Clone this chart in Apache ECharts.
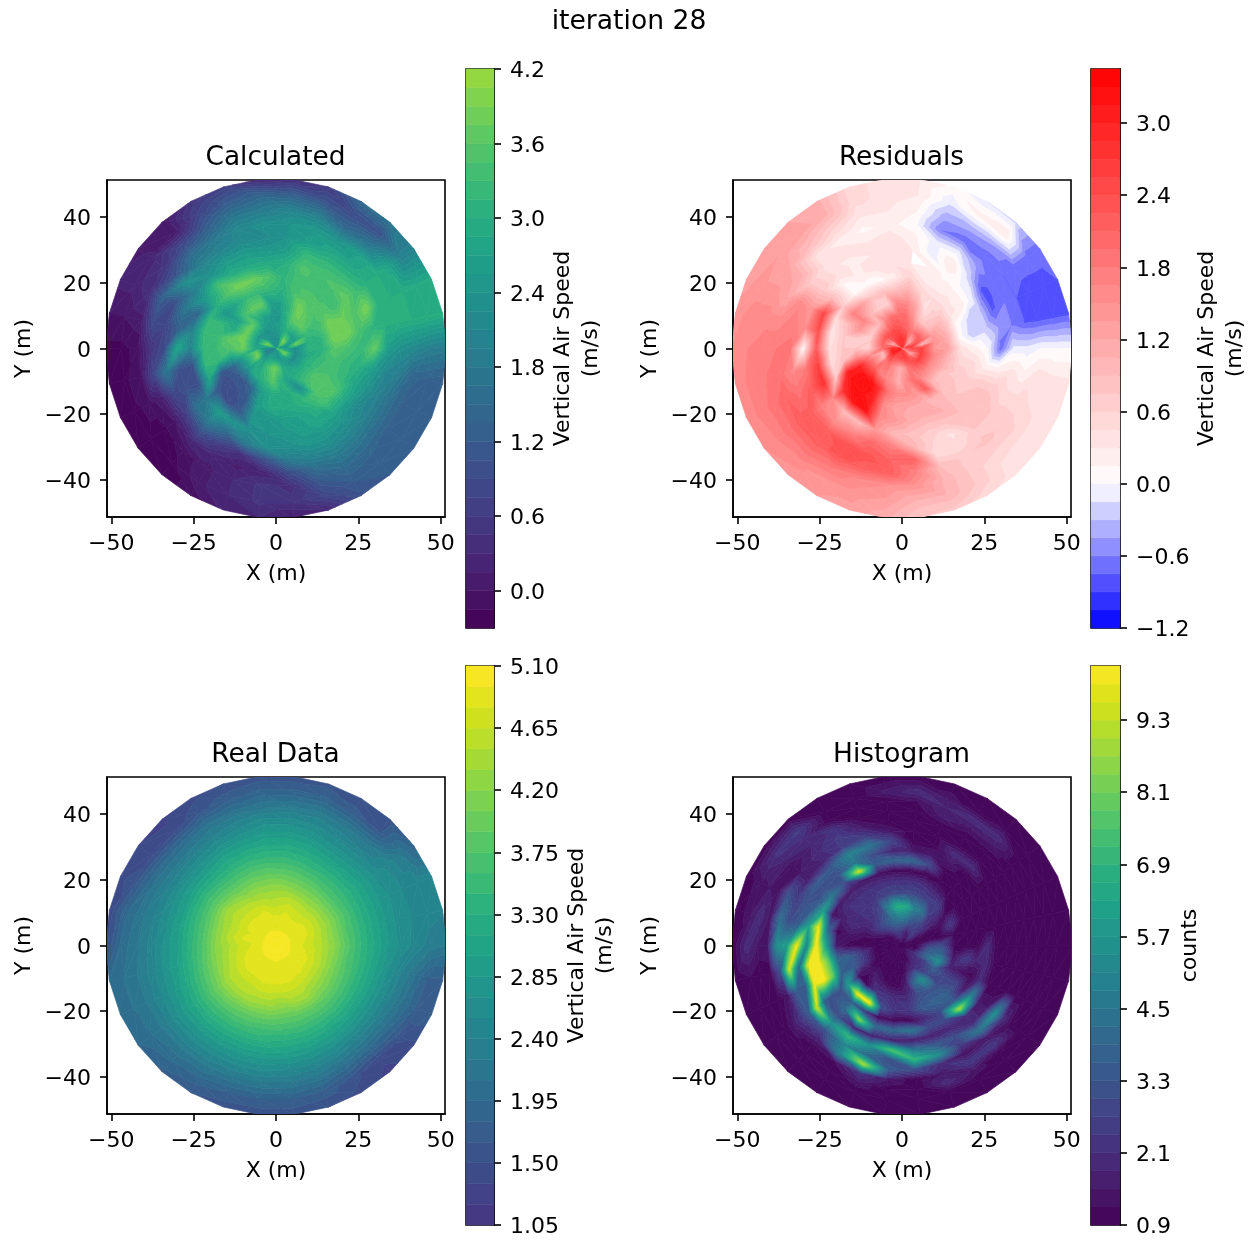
<!DOCTYPE html>
<html><head><meta charset="utf-8">
<style>html,body{margin:0;padding:0;background:#fff}#c{width:1253px;height:1241px}</style>
<script src="https://cdn.jsdelivr.net/npm/echarts@6/dist/echarts.min.js"></script>
</head><body><div id="c"></div>
<script>
// ---------- data: one row per radius, one value per 12 degree spoke, counter-clockwise from +X ----------
const sharedRadii = [0,3,6,10,14,18,22,26,30,34,38,42,47,51.7];
const calcRows = [
[3.0,2.4,2.6,3.2,2.6,2.4,2.4,2.3,2.3,2.3,2.4,2.4,3.0,3.2,2.4,2.2,2.2,2.0,2.0,2.2,2.4,2.4,2.4,2.4,2.4,2.5,2.4,3.0,3.6,3.4],
[2.6,2.4,3.0,3.8,3.9,3.2,2.4,2.3,2.2,2.3,2.4,2.6,3.6,3.9,3.0,2.2,2.0,2.0,2.2,2.6,2.6,2.6,2.6,2.5,2.4,2.6,3.0,3.7,3.8,3.0],
[2.2,3.8,2.6,2.6,2.8,3.0,2.8,2.6,2.5,2.4,2.4,2.4,2.4,2.5,2.6,2.8,3.8,3.9,3.0,2.8,3.2,3.5,3.8,3.6,3.0,2.7,2.4,2.2,2.2,2.2],
[3.1,3.0,3.2,3.6,3.7,3.6,3.0,2.5,2.5,2.6,2.9,3.6,3.8,3.8,3.8,3.8,3.0,2.6,2.5,2.9,3.0,3.2,3.6,3.1,2.7,2.9,3.0,3.0,3.0,2.9],
[3.0,3.1,3.3,3.4,3.6,3.9,3.2,2.7,2.6,3.7,3.7,3.4,2.7,2.9,3.7,3.5,2.7,1.3,1.2,1.1,1.6,2.6,2.9,2.9,3.0,2.2,3.4,3.5,3.3,3.2],
[3.6,3.9,3.9,3.6,3.5,3.5,3.4,3.0,3.2,3.2,3.2,2.8,2.4,3.2,3.3,3.3,3.2,1.1,0.9,1.0,1.2,2.6,2.9,2.9,3.0,3.2,3.5,3.6,3.4,3.4],
[3.4,3.9,3.8,3.3,3.3,3.4,3.4,3.1,3.5,3.8,3.9,3.5,3.0,3.2,3.3,3.2,3.2,2.9,1.1,1.0,1.1,2.5,2.4,2.6,2.7,2.9,3.4,3.5,3.2,3.2],
[3.2,3.4,3.5,3.7,3.5,3.4,3.5,3.0,2.9,2.9,3.0,3.4,2.6,1.4,2.0,2.0,1.0,0.9,1.8,2.6,2.4,2.3,2.4,2.5,2.6,2.8,2.8,2.8,2.8,3.0],
[3.7,3.1,3.9,3.3,3.2,3.2,3.2,2.6,2.5,2.6,2.6,2.3,2.0,1.8,1.3,2.8,1.0,1.0,1.6,1.9,1.4,1.9,2.3,2.3,2.5,2.5,2.4,2.2,2.4,2.6],
[2.6,3.0,3.0,3.0,2.8,2.8,2.6,2.4,2.2,2.2,2.1,2.0,2.3,0.9,0.8,0.9,1.8,0.8,0.6,1.0,0.6,0.4,1.0,1.9,2.1,2.2,2.1,2.0,2.0,2.1],
[2.3,3.0,3.0,3.0,2.7,2.4,2.5,2.4,2.3,2.2,1.8,1.6,1.0,1.3,0.9,0.5,0.8,0.1,0.0,0.3,0.2,0.1,0.2,0.9,1.6,1.8,1.7,1.6,1.6,1.9],
[2.15,3.0,3.0,2.8,1.8,1.5,2.0,2.1,1.9,1.8,1.3,0.9,0.5,0.4,0.1,-0.1,0.0,-0.1,-0.2,-0.1,0.1,0.3,0.5,0.4,1.2,1.5,1.4,1.3,1.3,1.4],
[1.95,3.0,2.9,2.0,1.0,0.9,1.1,1.3,1.4,1.2,0.8,0.0,0.2,0.2,0.0,-0.2,-0.2,-0.2,-0.2,-0.2,0.1,0.3,0.5,0.5,0.8,1.2,1.2,1.2,1.2,1.3],
[1.85,3.0,2.9,2.0,1.7,1.5,0.6,0.4,0.3,0.7,0.5,0.0,0.1,0.2,0.0,-0.2,-0.2,-0.2,-0.2,-0.2,-0.1,0.2,0.3,0.1,0.3,1.0,1.2,1.2,1.2,1.2]
];
const residualRows = [
[2.1,2.7,2.5,1.9,2.5,2.7,2.7,2.8,2.8,2.8,2.7,2.7,2.1,1.9,2.7,2.9,2.9,3.1,3.1,2.9,2.7,2.7,2.7,2.7,2.7,2.6,2.7,2.1,1.5,1.7],
[2.4,2.6,2.0,1.2,1.1,1.8,2.6,2.7,2.8,2.7,2.6,2.4,1.4,1.1,2.0,2.8,3.0,3.0,2.8,2.4,2.4,2.4,2.4,2.5,2.6,2.4,2.0,1.3,1.2,2.0],
[2.55,0.95,2.2,2.2,2.0,1.8,2.0,2.2,2.35,2.4,2.4,2.35,2.35,2.2,2.1,1.9,0.95,0.85,1.8,2.0,1.65,1.35,1.1,1.3,1.85,2.15,2.4,2.6,2.6,2.6],
[1.35,1.5,1.35,0.95,0.8,0.9,1.55,2.0,2.0,2.0,1.65,0.95,0.75,0.7,0.75,0.65,1.5,1.95,2.1,1.7,1.6,1.45,1.05,1.55,1.95,1.7,1.6,1.55,1.55,1.6],
[1.25,1.15,1.0,0.9,0.65,0.4,1.15,1.6,1.65,0.6,0.65,0.95,1.65,1.4,0.65,0.75,1.6,3.05,3.2,3.3,2.8,1.9,1.55,1.55,1.45,2.2,0.95,0.8,1.0,1.05],
[0.4,0.05,0.1,0.35,0.45,0.45,0.6,1.05,0.85,0.85,0.8,1.3,1.75,0.9,0.75,0.75,0.85,3.0,3.3,3.2,3.0,1.55,1.25,1.2,1.15,0.95,0.9,0.8,0.7,0.55],
[0.2,-0.3,-0.2,0.25,0.25,0.2,0.25,0.6,0.25,0.05,0.1,0.15,0.7,0.45,0.3,0.4,0.45,0.7,2.8,3.2,3.2,1.6,1.4,1.15,1.05,1.1,0.9,0.7,0.6,0.5],
[0.0,-0.2,-0.25,-0.1,0.0,0.1,0.3,0.3,0.4,0.4,0.25,0.1,0.9,2.5,2.4,2.2,2.6,2.8,1.6,0.9,0.9,1.4,0.95,0.85,0.75,0.8,0.9,0.9,0.7,0.2],
[-0.7,-0.45,-0.8,-0.8,-0.2,0.3,-0.1,0.3,0.45,0.3,0.25,0.45,0.75,1.4,1.5,0.1,1.8,2.2,1.7,1.5,1.7,2.0,1.7,1.0,0.6,0.4,0.9,0.9,0.7,0.2],
[-0.1,-0.6,-0.6,-0.7,-0.5,-0.1,-0.1,0.2,0.4,0.3,0.35,0.35,0.7,1.6,1.75,1.85,1.6,1.9,2.2,2.2,2.4,2.3,2.1,2.1,0.5,0.5,0.7,0.7,0.5,0.35],
[-0.1,-0.75,-0.75,-0.75,-0.7,-0.7,-0.6,0.05,0.2,0.1,0.25,0.35,1.1,1.2,1.6,1.8,1.9,2.1,2.2,2.2,2.3,2.2,2.2,1.7,0.9,0.7,0.8,0.7,0.5,0.2],
[0.0,-0.8,-0.8,-0.7,-0.45,-0.4,-0.4,0.15,0.3,0.3,0.6,0.9,1.2,1.4,1.6,1.75,1.8,1.9,1.9,1.9,1.8,1.6,1.5,1.45,1.0,0.7,0.6,0.6,0.45,0.4],
[0.0,-0.8,-0.8,-0.7,0.3,0.2,-0.1,0.3,0.4,0.5,1.1,1.3,1.35,1.4,1.6,1.65,1.7,1.7,1.65,1.55,1.4,1.4,1.3,1.0,1.0,0.7,0.4,0.35,0.35,0.35],
[0.0,-0.8,-0.75,-0.7,-0.2,-0.15,0.1,0.3,0.4,0.5,1.1,1.2,1.3,1.3,1.4,1.5,1.55,1.55,1.5,1.4,1.35,1.3,1.1,0.75,0.7,0.5,0.35,0.35,0.35,0.35]
];
const realRows = [
[5.1,5.1,5.1,5.1,5.1,5.1,5.1,5.1,5.1,5.1,5.1,5.1,5.1,5.1,5.1,5.1,5.1,5.1,5.1,5.1,5.1,5.1,5.1,5.1,5.1,5.1,5.1,5.1,5.1,5.1],
[5.0,5.0,5.0,5.0,5.0,5.0,5.0,5.0,5.0,5.0,5.0,5.0,5.0,5.0,5.0,5.0,5.0,5.0,5.0,5.0,5.0,5.0,5.0,5.0,5.0,5.0,5.0,5.0,5.0,5.0],
[4.88,4.88,4.9,4.9,4.9,4.9,4.9,4.9,4.9,4.9,4.9,4.88,4.88,4.85,4.85,4.85,4.88,4.88,4.9,4.9,4.9,4.9,4.92,4.92,4.9,4.9,4.9,4.9,4.9,4.9],
[4.72,4.77,4.82,4.82,4.77,4.77,4.82,4.77,4.77,4.87,4.82,4.82,4.82,4.77,4.82,4.72,4.77,4.82,4.87,4.87,4.87,4.9,4.9,4.9,4.9,4.87,4.87,4.82,4.82,4.77],
[4.5,4.5,4.55,4.55,4.5,4.55,4.6,4.55,4.5,4.55,4.6,4.6,4.6,4.55,4.6,4.5,4.55,4.6,4.65,4.65,4.65,4.7,4.68,4.68,4.68,4.65,4.6,4.55,4.55,4.5],
[4.2,4.15,4.2,4.15,4.15,4.15,4.2,4.25,4.25,4.25,4.2,4.3,4.4,4.3,4.25,4.25,4.25,4.3,4.45,4.45,4.45,4.4,4.4,4.3,4.4,4.4,4.25,4.2,4.15,4.15],
[3.78,3.74,3.78,3.74,3.74,3.78,3.83,3.87,3.91,3.87,3.83,3.83,3.87,3.83,3.78,3.78,3.83,3.91,4.0,4.0,3.96,3.96,3.96,3.91,3.91,3.91,3.87,3.83,3.78,3.74],
[3.43,3.43,3.43,3.43,3.43,3.43,3.47,3.52,3.52,3.52,3.47,3.43,3.47,3.43,3.39,3.39,3.43,3.52,3.61,3.61,3.61,3.61,3.56,3.56,3.56,3.52,3.52,3.47,3.43,3.43],
[3.12,3.12,3.12,3.12,3.08,3.08,3.17,3.21,3.21,3.17,3.12,3.03,3.03,2.99,2.99,2.99,3.03,3.12,3.21,3.25,3.25,3.25,3.25,3.21,3.21,3.17,3.12,3.08,3.08,3.08],
[2.86,2.86,2.86,2.86,2.77,2.77,2.86,2.9,2.9,2.81,2.77,2.68,2.64,2.68,2.68,2.73,2.77,2.81,2.9,2.9,2.9,2.9,2.9,2.9,2.86,2.81,2.77,2.73,2.73,2.77],
[2.64,2.64,2.68,2.59,2.46,2.51,2.59,2.64,2.64,2.51,2.42,2.33,2.33,2.37,2.42,2.46,2.51,2.55,2.59,2.59,2.59,2.59,2.59,2.55,2.51,2.46,2.37,2.37,2.42,2.46],
[2.51,2.55,2.55,2.51,2.2,2.24,2.33,2.3,2.25,2.2,2.15,2.02,2.02,2.11,2.2,2.24,2.29,2.29,2.29,2.29,2.29,2.25,2.25,2.24,2.2,2.07,1.98,2.02,2.11,2.2],
[2.33,2.46,2.51,2.24,1.6,1.7,1.85,1.85,1.85,1.75,1.6,1.4,1.42,1.6,1.9,2.0,2.11,2.11,2.07,1.98,1.9,1.8,1.8,1.8,1.75,1.55,1.38,1.55,1.75,1.8],
[2.24,2.42,2.46,1.85,1.55,1.55,1.6,1.55,1.55,1.5,1.45,1.3,1.35,1.45,1.4,1.45,1.98,2.02,1.93,1.75,1.65,1.55,1.55,1.55,1.5,1.45,1.3,1.45,1.75,1.75]
];
const histRadii = [0,4,8,12,16,20,23,26,29,32,35,38,41,44,47,51.7];
const histRows = [
[.9,.9,.9,.9,.9,.9,.9,.9,.9,.9,.9,.9,.9,.9,.9,.9,.9,.9,.9,.9,.9,.9,.9,.9,.9,.9,.9,.9,.9,.9],
[.9,.9,.9,1.8,2.4,2,1.5,2,2.4,2.4,2,1.5,.9,.9,.9,.9,.9,.9,.9,.9,.9,.9,.9,.9,.9,1.6,1.8,2,1.6,.9],
[2.6,.9,.9,2,2.6,3,3.5,4.3,4.4,4.2,3.6,3,2.4,1.6,.9,.9,.9,.9,.9,.9,.9,.9,.9,1.2,2,2.2,2.2,2.5,4,3.6],
[3,.9,1,1.8,2.4,4.5,5,6.5,6.8,5.2,3,2.4,2,1.6,1.2,1,2.4,2.2,1.3,1.6,1.3,.9,.9,1.6,4,5.5,3,3.6,5.5,4],
[1,1.2,2.4,1.2,2.6,2.6,2.8,2.9,2.9,2.7,2.4,2.1,2.1,2.1,1.5,1,3.6,3.5,1.2,1,2.2,2.2,2,2,3,3.2,3,2.8,1.6,1.4],
[.9,.9,.9,1,1.2,1.6,2,2.1,2.1,2.1,2.1,2.1,2.1,1.6,1,1.5,4,3.6,6,10,10.2,3,2.2,2.4,3.5,3.8,3.7,2.8,1.2,2.5],
[.9,.9,.9,.9,.9,.9,.9,.9,1,1.2,1.4,1.6,1.6,1.2,4,6,8,8,3,3.5,2.5,1,1,1,2,3,3.5,1.5,1,1.8],
[2,.9,.9,.9,.9,1,3,4,3.8,3.5,9.5,3,4.5,6,10,10.2,10.2,10.2,3,4,8.5,4,4,4.5,3,3,9,5,2,2],
[.9,.9,.9,.9,.9,1.5,1.5,1.5,1.8,3,4.5,3,3,3.5,6,5,10,10,3.5,3,1.8,1.6,1.6,1.6,1.6,1.8,2,1.5,.9,.9],
[.9,.9,.9,.9,2,2,1,1,2.8,4.5,5,3.5,3.5,3.2,3.5,10,4,3.5,9.5,5.5,7,5.5,7.5,4.5,3.5,3,2,1.5,.9,.9],
[.9,.9,.9,.9,1,1,1,1,1.5,2.5,2.5,1.8,1.5,2.5,3,6,9.5,3.5,3.5,3,5,4,3,7,5.5,2.5,4.5,5.5,1.2,.9],
[.9,.9,.9,.9,1,.9,.9,.9,.9,1.5,2.5,2,1.5,3.2,4.2,5.5,3,1.4,2.3,1.8,5,9,3.5,3,2,1.2,1.5,2,.9,.9],
[.9,.9,.9,.9,1.5,1.4,1.6,.9,.9,.9,2.2,1.8,1.2,1.2,1.4,1.5,1,.9,1.5,1,1.2,2.2,1.5,1,1.5,2.4,2.4,1,.9,.9],
[.9,.9,.9,.9,2,2,1.8,1.2,.9,.9,.9,2,1.8,1.5,2,1.5,.9,.9,.9,.9,.9,1.4,1,.9,2,1.4,.9,.9,.9,.9],
[.9,.9,.9,.9,1.2,.9,1.4,2,1.6,.9,.9,2.5,2.2,1.4,1.4,2,1.2,.9,.9,.9,.9,.9,.9,.9,.9,.9,.9,.9,.9,.9],
[.9,.9,.9,.9,.9,.9,.9,.9,.9,.9,.9,.9,.9,.9,.9,.9,.9,.9,.9,.9,.9,.9,.9,.9,.9,.9,.9,.9,.9,.9]
];
const xTicks = [-50,-25,0,25,50];
const yTicks = [-40,-20,0,20,40];
const calcTicks = [0.0,0.6,1.2,1.8,2.4,3.0,3.6,4.2];
const residualTicks = [-1.2,-0.6,0.0,0.6,1.2,1.8,2.4,3.0];
const realTicks = [1.05,1.50,1.95,2.40,2.85,3.30,3.75,4.20,4.65,5.10];
const histTicks = [0.9,2.1,3.3,4.5,5.7,6.9,8.1,9.3];

// ---------- colour maps ----------
const viridisStops = ['#440154','#48186a','#472d7b','#424086','#3b528b','#33638d','#2c728e','#26828e','#21918c','#1fa088','#28ae80','#3fbc73','#5ec962','#84d44b','#addc30','#d8e219','#fde725'];
function viridis(t){
  t=Math.max(0,Math.min(1,t));
  const p=t*(viridisStops.length-1), i=Math.min(Math.floor(p),viridisStops.length-2), f=p-i;
  const a=viridisStops[i], b=viridisStops[i+1];
  const ch=(h,o)=>parseInt(h.substr(o,2),16);
  return 'rgb('+[1,3,5].map(o=>Math.round(ch(a,o)+(ch(b,o)-ch(a,o))*f)).join(',')+')';
}
function bwr(v){
  if(v<0){const t=Math.round(255*(1-Math.min(1,-v/1.2)));return 'rgb('+t+','+t+',255)';}
  const t=Math.round(255*(1-Math.min(1,v/3.45)));return 'rgb(255,'+t+','+t+')';
}
const calcColor=v=>viridis((v+0.3)/5.3);
const realColor=v=>viridis((v-0.35)/4.73);
const histColor=v=>viridis((v-0.9)/9.3);

// ---------- panels ----------
const panels=[
 {title:'Calculated',radii:sharedRadii,rows:calcRows,lo:-0.3,hi:4.2,step:0.15,color:calcColor,ticks:calcTicks,dec:1,name:'Vertical Air Speed\n(m/s)',gap:54,
  plot:{left:107,top:180,width:338,height:337},bar:{left:466,top:69,width:28,height:559}},
 {title:'Residuals',radii:sharedRadii,rows:residualRows,lo:-1.2,hi:3.45,step:0.15,color:bwr,ticks:residualTicks,dec:1,name:'Vertical Air Speed\n(m/s)',gap:73,
  plot:{left:733,top:180,width:338,height:337},bar:{left:1091,top:69,width:29,height:559}},
 {title:'Real Data',radii:sharedRadii,rows:realRows,lo:1.05,hi:5.1,step:0.15,color:realColor,ticks:realTicks,dec:2,name:'Vertical Air Speed\n(m/s)',gap:68,
  plot:{left:107,top:777,width:338,height:337},bar:{left:466,top:666,width:28,height:559}},
 {title:'Histogram',radii:histRadii,rows:histRows,lo:0.9,hi:10.2,step:0.3,color:histColor,ticks:histTicks,dec:1,name:'counts',gap:56,
  plot:{left:733,top:777,width:338,height:337},bar:{left:1091,top:666,width:29,height:559}}
];
const FONT='"DejaVu Sans"', FS=22, TFS=26.4, LW=1.6, TICK=7;
const minus=s=>String(s).replace('-','\u2212');
const tickRich={t:{color:'#000',fontSize:FS,fontFamily:FONT,padding:[5,0,0,0]}};

function bandsOf(p){
  const out=[], n=Math.round((p.hi-p.lo)/p.step);
  for(let i=0;i<n;i++){const a=p.lo+i*p.step,b=a+p.step;out.push([a,b,p.color((a+b)/2)]);}
  return out;
}
function clipPoly(poly,level,above){
  const out=[];
  for(let i=0;i<poly.length;i++){
    const A=poly[i],B=poly[(i+1)%poly.length];
    const ia=above?A[2]>=level:A[2]<=level, ib=above?B[2]>=level:B[2]<=level;
    if(ia)out.push(A);
    if(ia!==ib){const t=(level-A[2])/(B[2]-A[2]);out.push([A[0]+(B[0]-A[0])*t,A[1]+(B[1]-A[1])*t,level]);}
  }
  return out;
}
function contourItem(bands,tri,children){
  const vs=tri.map(q=>q[2]),mn=Math.min(...vs),mx=Math.max(...vs);
  for(const b of bands){
    if(b[1]<mn||b[0]>mx)continue;
    let poly=clipPoly(tri,b[0],true);
    if(poly.length<3)continue;
    poly=clipPoly(poly,b[1],false);
    if(poly.length<3)continue;
    children.push({type:'polygon',silent:true,shape:{points:poly.map(q=>[q[0],q[1]])},style:{fill:b[2],stroke:b[2],lineWidth:0.7}});
  }
}
const option={animation:false,backgroundColor:'#fff',textStyle:{fontFamily:FONT},
  title:[{text:'iteration 28',left:629,top:9,padding:0,textAlign:'center',textStyle:{fontFamily:FONT,fontSize:26.6,fontWeight:'normal',color:'#000'}}],
  grid:[],xAxis:[],yAxis:[],series:[]};
panels.forEach((p,pi)=>{
  const bands=bandsOf(p), g=pi*2;
  option.title.push({text:p.title,left:p.plot.left+p.plot.width/2-0.5,top:p.plot.top-35,padding:0,textAlign:'center',textStyle:{fontFamily:FONT,fontSize:TFS,fontWeight:'normal',color:'#000'}});
  const frame={show:true,borderColor:'#000',borderWidth:LW,backgroundColor:'transparent',outerBoundsMode:'none'};
  option.grid.push(Object.assign({},p.plot,frame),Object.assign({},p.bar,frame));
  const common={axisLine:{show:true,onZero:false,lineStyle:{color:'#000',width:LW}},splitLine:{show:false}};
  const label={color:'#000',fontSize:FS,fontFamily:FONT};
  option.xAxis.push(Object.assign({},common,{gridIndex:g,type:'value',min:-51.3,max:51.3,name:'X (m)',nameLocation:'middle',nameGap:46,
     nameTextStyle:{color:'#000',fontSize:FS,fontFamily:FONT},
     axisTick:{length:TICK,lineStyle:{color:'#000',width:LW},customValues:xTicks},
     axisLabel:Object.assign({},label,{margin:16,customValues:xTicks,formatter:minus})}));
  option.yAxis.push(Object.assign({},common,{gridIndex:g,type:'value',min:-51.3,max:51.3,name:'Y (m)',nameLocation:'middle',nameGap:72,nameRotate:90,
     nameTextStyle:{color:'#000',fontSize:FS,fontFamily:FONT},
     axisTick:{length:TICK,lineStyle:{color:'#000',width:LW},customValues:yTicks},
     axisLabel:Object.assign({},label,{margin:16,rich:tickRich,customValues:yTicks,formatter:v=>'{t|'+minus(v)+'}'})}));
  option.xAxis.push({gridIndex:g+1,type:'value',min:0,max:1,show:false});
  option.yAxis.push(Object.assign({},common,{gridIndex:g+1,type:'value',position:'right',min:p.lo,max:p.hi,name:p.name,nameLocation:'middle',nameGap:p.gap,nameRotate:90,
     nameTextStyle:{color:'#000',fontSize:FS,fontFamily:FONT,lineHeight:28},
     axisTick:{length:TICK,lineStyle:{color:'#000',width:LW},customValues:p.ticks},
     axisLabel:Object.assign({},label,{margin:16,rich:tickRich,customValues:p.ticks,formatter:v=>'{t|'+minus(Number(v).toFixed(p.dec))+'}'})}));
  // contour mesh cells
  const cells=[], n=p.rows[0].length;
  for(let i=0;i+1<p.radii.length;i++)for(let k=0;k<n;k++){
    const k2=(k+1)%n;
    cells.push([p.radii[i]*Math.cos(k*12*Math.PI/180),p.radii[i]*Math.sin(k*12*Math.PI/180),i,k,p.rows[i][k],p.rows[i][k2],p.rows[i+1][k],p.rows[i+1][k2]]);
  }
  option.series.push({type:'custom',xAxisIndex:g,yAxisIndex:g,coordinateSystem:'cartesian2d',clip:true,silent:true,animation:false,progressive:0,
    encode:{x:0,y:1},data:cells,
    renderItem:(params,api)=>{
      const i=api.value(2),k=api.value(3);
      const pt=(r,K,v)=>{const a=K*12*Math.PI/180,c=api.coord([r*Math.cos(a),r*Math.sin(a)]);
        return [c[0],c[1],Math.max(p.lo,Math.min(p.hi,v))];};
      const r0=p.radii[i],r1=p.radii[i+1];
      const a=pt(r0,k,api.value(4)),b=pt(r0,k+1,api.value(5)),c=pt(r1,k,api.value(6)),d=pt(r1,k+1,api.value(7));
      const children=[];
      if(r0>0)contourItem(bands,[a,b,d],children);
      contourItem(bands,[a,d,c],children);
      return {type:'group',children};
    }});
  // colour bar bands
  option.series.push({type:'custom',xAxisIndex:g+1,yAxisIndex:g+1,coordinateSystem:'cartesian2d',silent:true,animation:false,progressive:0,
    encode:{x:0,y:1},data:bands.map(b=>[0,b[0],b[1]]),
    renderItem:(params,api)=>{
      const lo=api.coord([0,api.value(1)]),hi=api.coord([1,api.value(2)]),col=bands[params.dataIndex][2];
      return {type:'rect',silent:true,shape:{x:lo[0],y:hi[1],width:hi[0]-lo[0],height:lo[1]-hi[1]},style:{fill:col,stroke:col,lineWidth:0.5}};
    }});
});
const chart=echarts.init(document.getElementById('c'),null,{renderer:'canvas'});
chart.setOption(option);
</script></body></html>
